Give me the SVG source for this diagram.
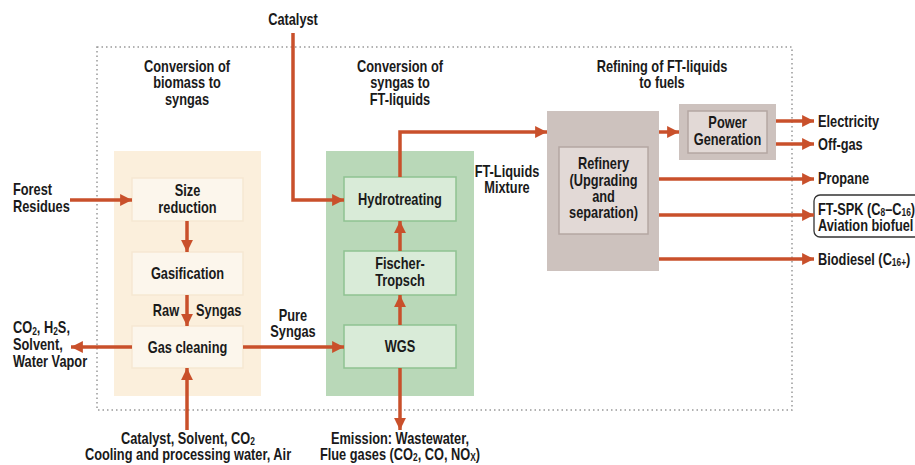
<svg xmlns="http://www.w3.org/2000/svg" width="915" height="465" viewBox="0 0 915 465">
<style>
text{font-family:"Liberation Sans",Arial,sans-serif;font-weight:bold;font-size:16px;fill:#1a1a1a;transform-box:fill-box;transform-origin:left center;transform:scaleX(0.8)}
text.c{text-anchor:middle;transform-origin:center center}
text.e{text-anchor:end;transform-origin:right center}
.sub{font-size:10.5px}
.arr{fill:none;stroke:#c9502b;stroke-width:3.5;marker-end:url(#ah)}
.po{fill:#fbefdc}
.bo{fill:#fcf6ec;stroke:#f6e8d2;stroke-width:1.5}
.pg{fill:#b9d8b8}
.bg{fill:#d9ebd8;stroke:#8fc291;stroke-width:1.5}
.pr{fill:#cdc2be}
.br{fill:#e2d9d6;stroke:#b4a7a2;stroke-width:1.5}
</style>
<defs>
<marker id="ah" markerWidth="4" markerHeight="4" refX="3.4" refY="2" orient="auto" markerUnits="strokeWidth" viewBox="0 0 4 4">
<path d="M0,0.3 L3.4,2 L0,3.7 Z" fill="#c9502b"/>
</marker>
</defs>
<rect x="97" y="47" width="695" height="363" fill="none" stroke="#999" stroke-width="1.5" stroke-dasharray="1.5 3"/>
<g id="panels">
<rect class="po" x="114" y="151" width="147" height="245"/>
<rect class="pg" x="326" y="151" width="148" height="245"/>
</g>
<g id="titles">
<text class="c" x="187" y="72">Conversion of</text>
<text class="c" x="187" y="88.5">biomass to</text>
<text class="c" x="187" y="105">syngas</text>
<text class="c" x="400" y="72">Conversion of</text>
<text class="c" x="400" y="88.5">syngas to</text>
<text class="c" x="400" y="105">FT-liquids</text>
<text class="c" x="662" y="72">Refining of FT-liquids</text>
<text class="c" x="662" y="88.5">to fuels</text>
</g>
<g id="size-reduction">
<rect class="bo" x="132" y="178" width="111" height="43"/>
<text class="c" x="187.5" y="196">Size</text>
<text class="c" x="187.5" y="213">reduction</text>
</g>
<g id="gasification">
<rect class="bo" x="132" y="252" width="111" height="43"/>
<text class="c" x="187.5" y="279">Gasification</text>
</g>
<g id="gas-cleaning">
<rect class="bo" x="132" y="326" width="111" height="42"/>
<text class="c" x="187.5" y="353">Gas cleaning</text>
</g>
<g id="hydrotreating">
<rect class="bg" x="344" y="177" width="112" height="44"/>
<text class="c" x="400" y="205">Hydrotreating</text>
</g>
<g id="fischer-tropsch">
<rect class="bg" x="344" y="251" width="112" height="44"/>
<text class="c" x="400" y="269">Fischer-</text>
<text class="c" x="400" y="286">Tropsch</text>
</g>
<g id="wgs">
<rect class="bg" x="344" y="325" width="112" height="43"/>
<text class="c" x="400" y="352">WGS</text>
</g>
<g id="refinery">
<rect class="pr" x="547" y="111" width="112" height="160"/>
<rect class="br" x="559" y="147" width="89" height="87"/>
<text class="c" x="603.5" y="169">Refinery</text>
<text class="c" x="603.5" y="186">(Upgrading</text>
<text class="c" x="603.5" y="202">and</text>
<text class="c" x="603.5" y="218">separation)</text>
</g>
<g id="power-generation">
<rect class="pr" x="679" y="104" width="97" height="56"/>
<rect class="br" x="688" y="111" width="79" height="42"/>
<text class="c" x="727.5" y="128">Power</text>
<text class="c" x="727.5" y="145">Generation</text>
</g>
<g id="labels">
<text class="c" x="293" y="25">Catalyst</text>
<text x="13" y="195">Forest</text>
<text x="13" y="212">Residues</text>
<text x="13" y="333">CO<tspan class="sub" dy="2">2</tspan><tspan dy="-2">, H</tspan><tspan class="sub" dy="2">2</tspan><tspan dy="-2">S,</tspan></text>
<text x="13" y="350">Solvent,</text>
<text x="13" y="367">Water Vapor</text>
<text class="e" x="179" y="316">Raw</text>
<text x="196" y="316">Syngas</text>
<text class="c" x="293" y="321">Pure</text>
<text class="c" x="293" y="337">Syngas</text>
<text class="c" x="188" y="444">Catalyst, Solvent, CO<tspan class="sub" dy="1.5">2</tspan></text>
<text class="c" x="188" y="460">Cooling and processing water, Air</text>
<text class="c" x="400" y="444">Emission: Wastewater,</text>
<text class="c" x="400" y="460">Flue gases (CO<tspan class="sub" dy="1.5">2</tspan><tspan dy="-1.5">, CO, NO</tspan><tspan class="sub" dy="1.5">X</tspan><tspan dy="-1.5">)</tspan></text>
<text class="c" x="507" y="177">FT-Liquids</text>
<text class="c" x="507" y="193">Mixture</text>
<text x="818" y="127">Electricity</text>
<text x="818" y="150">Off-gas</text>
<text x="818" y="184">Propane</text>
<rect x="814" y="195" width="110" height="42" rx="6" fill="none" stroke="#333" stroke-width="1.3"/>
<text x="818" y="215">FT-SPK (C<tspan class="sub" dy="1">8</tspan><tspan dy="-1">–C</tspan><tspan class="sub" dy="1">16</tspan><tspan dy="-1">)</tspan></text>
<text x="818" y="231">Aviation biofuel</text>
<text x="818" y="265">Biodiesel (C<tspan class="sub" dy="1">16+</tspan><tspan dy="-1">)</tspan></text>
</g>
<g id="connectors">
<path class="arr" d="M70,200 H132"/>
<path class="arr" d="M187,221 V252"/>
<path class="arr" d="M187,295 V326"/>
<path class="arr" d="M132,347 H71"/>
<path class="arr" d="M187,430 V368"/>
<path class="arr" d="M243,347 H344"/>
<path class="arr" d="M293,33 V200 H344"/>
<path class="arr" d="M400,325 V295"/>
<path class="arr" d="M400,251 V221"/>
<path class="arr" d="M400,368 V430"/>
<path class="arr" d="M400,177 V132 H547"/>
<path class="arr" d="M659,132 H679"/>
<path class="arr" d="M776,121 H814"/>
<path class="arr" d="M776,144 H814"/>
<path class="arr" d="M659,179 H814"/>
<path class="arr" d="M659,215 H814"/>
<path class="arr" d="M659,259 H814"/>
</g>
</svg>
